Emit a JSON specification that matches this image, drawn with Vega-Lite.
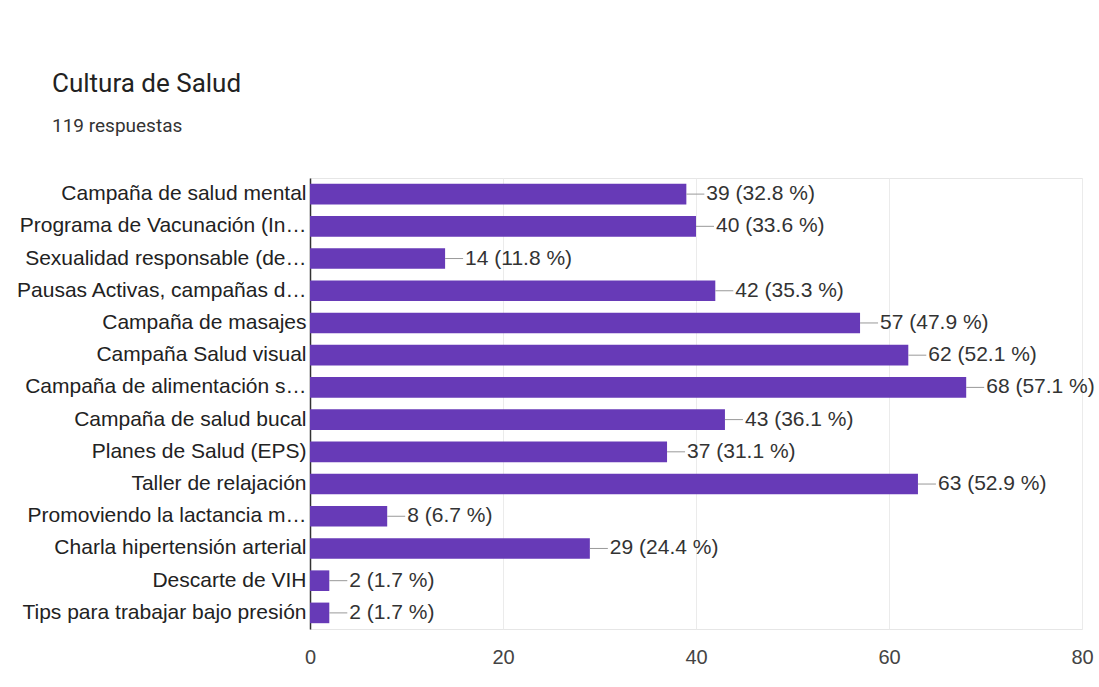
{
  "$schema": "https://vega.github.io/schema/vega-lite/v6.json",
  "width": 772,
  "height": 451,
  "autosize": {"type": "none"},
  "padding": {"left": 310, "top": 178, "right": 17, "bottom": 58},
  "background": "white",
  "title": {
    "text": "Cultura de Salud",
    "subtitle": "119 respuestas",
    "anchor": "start",
    "frame": "group",
    "dx": -258,
    "offset": 42,
    "font": "Roboto",
    "fontSize": 26,
    "fontWeight": "normal",
    "color": "#222222",
    "subtitleFont": "Roboto",
    "subtitleFontSize": 19,
    "subtitleColor": "#333333",
    "subtitlePadding": 20
  },
  "data": {
    "values": [
      {"opcion": "Campaña de salud mental", "n": 39, "label": "39 (32.8 %)"},
      {"opcion": "Programa de Vacunación (In…", "n": 40, "label": "40 (33.6 %)"},
      {"opcion": "Sexualidad responsable (de…", "n": 14, "label": "14 (11.8 %)"},
      {"opcion": "Pausas Activas, campañas d…", "n": 42, "label": "42 (35.3 %)"},
      {"opcion": "Campaña de masajes", "n": 57, "label": "57 (47.9 %)"},
      {"opcion": "Campaña Salud visual", "n": 62, "label": "62 (52.1 %)"},
      {"opcion": "Campaña de alimentación s…", "n": 68, "label": "68 (57.1 %)"},
      {"opcion": "Campaña de salud bucal", "n": 43, "label": "43 (36.1 %)"},
      {"opcion": "Planes de Salud (EPS)", "n": 37, "label": "37 (31.1 %)"},
      {"opcion": "Taller de relajación", "n": 63, "label": "63 (52.9 %)"},
      {"opcion": "Promoviendo la lactancia m…", "n": 8, "label": "8 (6.7 %)"},
      {"opcion": "Charla hipertensión arterial", "n": 29, "label": "29 (24.4 %)"},
      {"opcion": "Descarte de VIH", "n": 2, "label": "2 (1.7 %)"},
      {"opcion": "Tips para trabajar bajo presión", "n": 2, "label": "2 (1.7 %)"}
    ]
  },
  "encoding": {
    "y": {
      "field": "opcion",
      "type": "nominal",
      "sort": null,
      "title": null,
      "scale": {"paddingInner": 0.36, "paddingOuter": 0.18},
      "axis": {
        "labelFont": "Liberation Sans",
        "labelFontSize": 21,
        "labelColor": "#222222",
        "labelLimit": 0,
        "labelPadding": 4,
        "ticks": false,
        "domainColor": "#333333",
        "domainWidth": 1.5,
        "grid": false
      }
    },
    "x": {
      "field": "n",
      "type": "quantitative",
      "title": null,
      "scale": {"domain": [0, 80], "nice": false},
      "axis": {
        "values": [0, 20, 40, 60, 80],
        "labelFont": "Liberation Sans",
        "labelFontSize": 20,
        "labelColor": "#444444",
        "labelPadding": 18,
        "labelFlush": false,
        "ticks": false,
        "domain": false,
        "gridColor": "#ebebeb",
        "gridWidth": 1
      }
    }
  },
  "layer": [
    {"mark": {"type": "bar", "color": "#673AB7"}},
    {
      "mark": {"type": "rule", "color": "#999999", "strokeWidth": 1, "x2Offset": 18},
      "encoding": {"x2": {"field": "n"}}
    },
    {
      "mark": {"type": "text", "align": "left", "baseline": "middle", "dx": 20, "font": "Liberation Sans", "fontSize": 21, "color": "#333333"},
      "encoding": {"text": {"field": "label"}}
    }
  ],
  "config": {
    "view": {"stroke": "#e6e6e6", "strokeWidth": 1}
  }
}
